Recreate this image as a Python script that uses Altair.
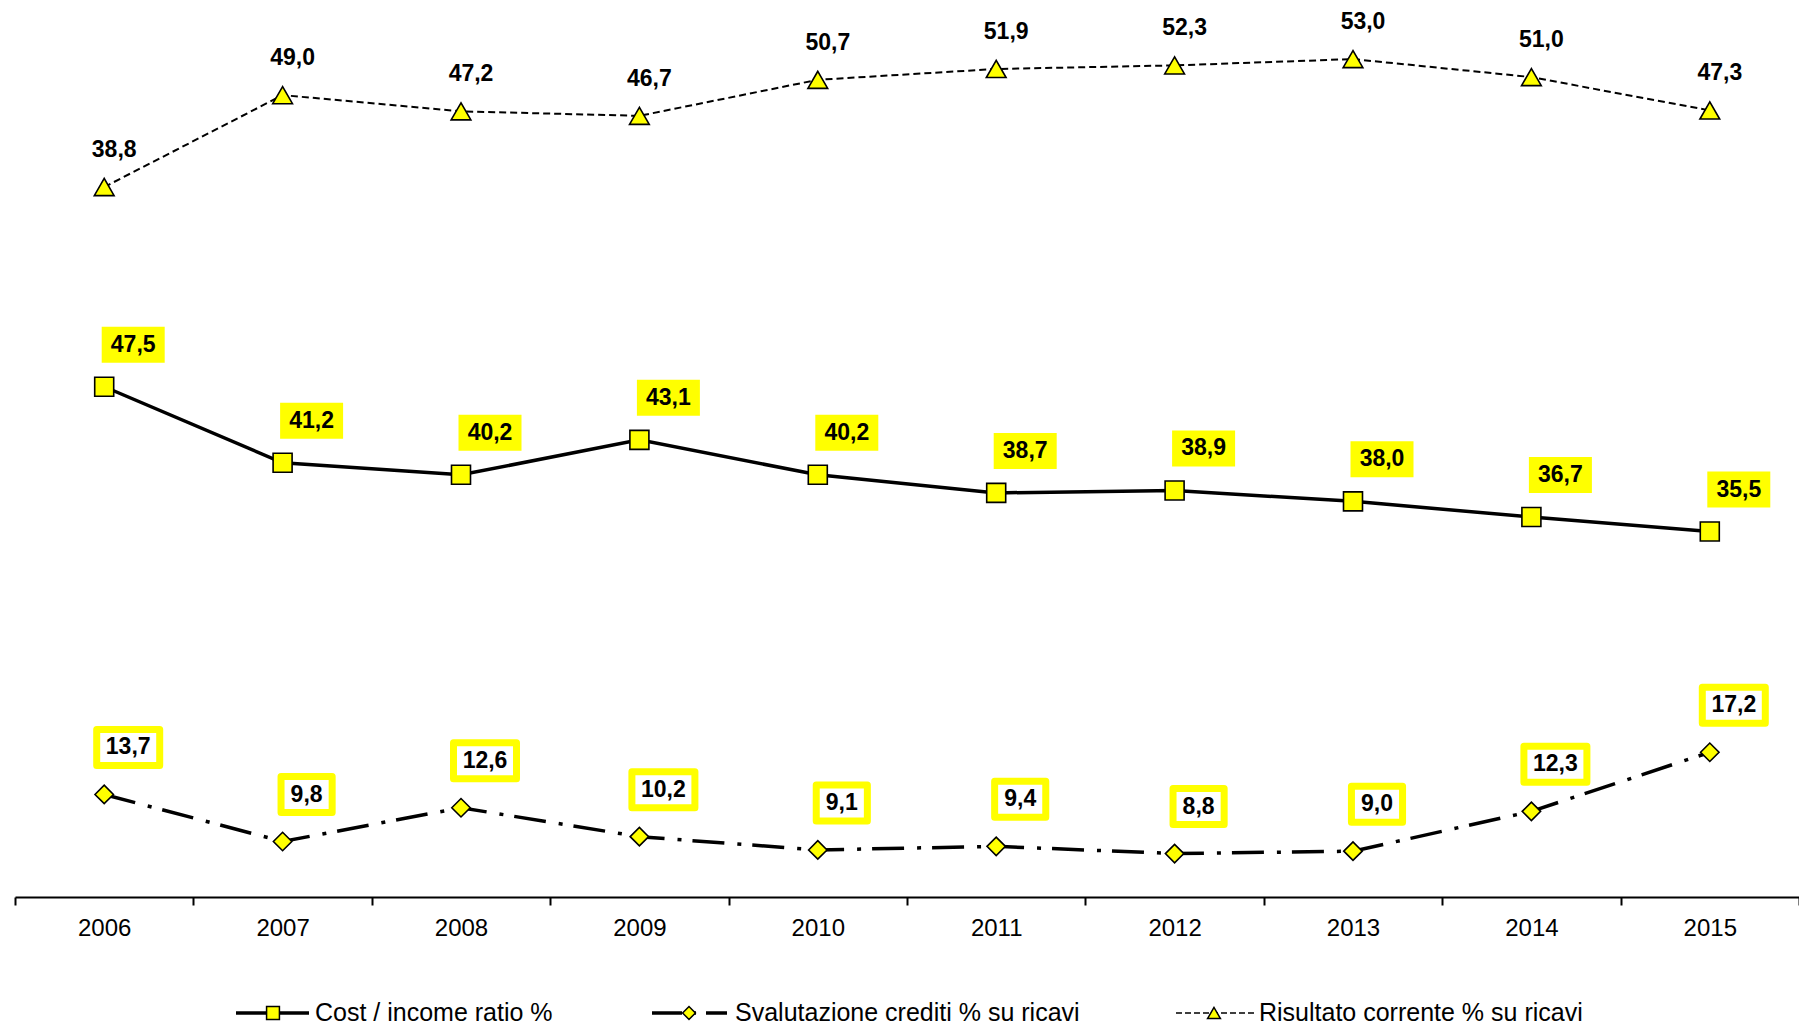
import altair as alt
import pandas as pd

# ---------------- data ----------------
years = ["2006", "2007", "2008", "2009", "2010", "2011", "2012", "2013", "2014", "2015"]
cost_income = [47.5, 41.2, 40.2, 43.1, 40.2, 38.7, 38.9, 38.0, 36.7, 35.5]
svalutazione = [13.7, 9.8, 12.6, 10.2, 9.1, 9.4, 8.8, 9.0, 12.3, 17.2]
risultato = [38.8, 49.0, 47.2, 46.7, 50.7, 51.9, 52.3, 53.0, 51.0, 47.3]
series_names = ["Cost / income ratio %",
                "Svalutazione crediti % su ricavi",
                "Risultato corrente % su ricavi"]


def fmt(v):
    return f"{v:.1f}".replace(".", ",")


def frame(vals):
    return pd.DataFrame({"year": years, "value": vals, "label": [fmt(v) for v in vals]})


df_ci = frame(cost_income)
df_sv = frame(svalutazione)
df_rc = frame(risultato)

# ---------------- style ----------------
FONT = "Liberation Sans"
YELLOW = "#FFFF00"
W, H = 1784, 889
PAD_LEFT = 7
PRIMARY = [5.2, 78.9]      # cost/income and svalutazione
SECONDARY = [-40.0, 58.67]  # risultato corrente
BOX4 = "M-1.75,-1H1.75V1H-1.75Z"
BOX3 = "M-1.42,-1H1.42V1H-1.42Z"

x_enc = alt.X(
    "year:N",
    scale=alt.Scale(type="band", paddingInner=0, paddingOuter=0),
    axis=alt.Axis(
        title=None, labelAngle=0, labelFont=FONT, labelFontSize=24,
        labelColor="black", labelPadding=11, domainColor="black",
        domainWidth=2, tickColor="black", tickWidth=2, tickSize=8,
        tickBand="extent", grid=False, orient="bottom",
    ),
)


def y_enc(domain):
    return alt.Y("value:Q", scale=alt.Scale(domain=domain, nice=False, zero=False), axis=None)


def series_layers(df, domain, shape, size, line_kw, label_kind, dx, dy):
    layers = []
    layers.append(alt.Chart(df).mark_line(color="black", **line_kw).encode(x=x_enc, y=y_enc(domain)))
    layers.append(
        alt.Chart(df).mark_point(
            shape=shape, size=size, filled=True, fill=YELLOW, stroke="black",
            strokeWidth=1.6, opacity=1,
        ).encode(x=x_enc, y=y_enc(domain))
    )
    if label_kind == "filled":
        layers.append(
            alt.Chart(df).mark_point(
                shape=BOX4, size=1296, filled=True, fill=YELLOW, strokeWidth=0,
                opacity=1, xOffset=dx, yOffset=dy,
            ).encode(x=x_enc, y=y_enc(domain))
        )
    elif label_kind == "outlined":
        layers.append(
            alt.Chart(df).transform_calculate(n="length(datum.label)").mark_point(
                size=1296, filled=True, fill="white", stroke=YELLOW, strokeWidth=7,
                strokeJoin="round", opacity=1, xOffset=dx, yOffset=dy,
            ).encode(
                x=x_enc, y=y_enc(domain),
                shape=alt.Shape("n:N", scale=alt.Scale(domain=[3, 4], range=[BOX3, BOX4]), legend=None),
            )
        )
    layers.append(
        alt.Chart(df).mark_text(
            font=FONT, fontSize=23, fontWeight="bold", color="black",
            dx=dx, dy=dy, baseline="middle",
        ).encode(x=x_enc, y=y_enc(domain), text="label:N")
    )
    return layers


layers = []
layers += series_layers(df_rc, SECONDARY, "triangle-up", 390,
                        dict(strokeWidth=2, strokeDash=[7, 4]), None, 10, -37)
layers += series_layers(df_sv, PRIMARY, "diamond", 340,
                        dict(strokeWidth=3.5, strokeDash=[32, 13, 4, 11]), "outlined", 24, -47)
layers += series_layers(df_ci, PRIMARY, "square", 361,
                        dict(strokeWidth=3.5), "filled", 29, -42)

# ---------------- legend (drawn below the axis) ----------------
LY = 1005
legend_items = [
    # rule x0, rule x1, marker x, text x, shape, line style
    (221, 294, 258, 300, "square", dict(strokeWidth=3.5)),
    (637, 712, 674, 720, "diamond", dict(strokeWidth=3.5, strokeDash=[30, 10, 4, 10])),
    (1161, 1239, 1199, 1244, "triangle-up", dict(strokeWidth=1.6, strokeDash=[6, 3])),
]
for name, (a, b, c, t, shp, kw) in zip(series_names, legend_items):
    ldf = pd.DataFrame({"name": [name]})
    layers.append(alt.Chart(ldf).mark_rule(color="black", **kw).encode(
        x=alt.value(a), x2=alt.value(b), y=alt.value(LY)))
    layers.append(alt.Chart(ldf).mark_point(
        shape=shp, size=165, filled=True, fill=YELLOW, stroke="black",
        strokeWidth=1.5, opacity=1).encode(x=alt.value(c), y=alt.value(LY)))
    layers.append(alt.Chart(ldf).mark_text(
        align="left", baseline="middle", font=FONT, fontSize=25, color="black").encode(
        x=alt.value(t), y=alt.value(LY), text="name:N"))

chart = alt.layer(*layers).resolve_scale(y="independent").properties(
    width=W, height=H,
    padding={"left": PAD_LEFT, "top": 0, "right": 0, "bottom": 134},
    autosize=alt.AutoSizeParams(type="none"),
    background="white",
).configure_view(stroke=None)

chart.save("out.html", embed_options={"renderer": "svg", "actions": False})
